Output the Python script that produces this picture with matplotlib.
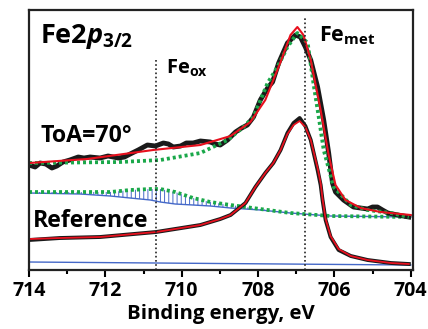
import numpy as np
import matplotlib
matplotlib.use("Agg")
from matplotlib import pyplot as plt
from matplotlib.ticker import MultipleLocator

plt.rcParams['font.family'] = ['Open Sans', 'DejaVu Sans']
plt.rcParams['font.weight'] = 'bold'
plt.rcParams['mathtext.fontset'] = 'custom'
plt.rcParams['mathtext.rm'] = 'Open Sans:bold'
plt.rcParams['mathtext.it'] = 'Open Sans:italic:bold'
plt.rcParams['mathtext.bf'] = 'Open Sans:bold'
plt.rcParams['hatch.linewidth'] = 0.7

### ToA = 70 deg spectrum (raw, fit, metal component)
toa_be = [714.00, 713.84, 713.71, 713.56, 713.40, 713.27, 713.11, 712.93, 712.71, 712.56,
          712.40, 712.14, 711.93, 711.66, 711.50, 711.35, 711.14, 710.90, 710.69, 710.48,
          710.35, 710.22, 710.03, 709.88, 709.70, 709.51, 709.25, 709.12, 708.99, 708.80,
          708.59, 708.43, 708.28, 708.12, 707.94, 707.75, 707.62, 707.46, 707.23, 707.02,
          706.89, 706.76, 706.62, 706.44, 706.28, 706.15, 706.05, 705.97, 705.76, 705.50,
          705.13, 705.00, 704.87, 704.74, 704.60, 704.34, 704.05]
toa_raw = [105, 103, 107, 106, 102, 104, 108, 110, 113, 112,
           113, 112, 114, 112, 113, 116, 120, 125, 124, 127,
           126, 123, 124, 127, 127, 129, 128, 126, 125, 130,
           138, 142, 145, 153, 170, 182, 188, 207, 227, 235,
           233, 223, 210, 183, 150, 117, 87, 78, 70, 63,
           61, 63, 63, 60, 57, 55, 53]

fit_be = [714.0, 712.48, 710.75, 709.51, 708.72, 708.20, 707.81, 707.41, 707.15, 706.97,
          706.81, 706.62, 706.36, 706.15, 705.97, 705.71, 705.31, 704.79, 704.0]
toa_fit = [107, 111, 120, 125, 134, 148, 170, 208, 235, 243,
           235, 210, 160, 115, 85, 70, 62, 58, 55]

met_be = [714.0, 711.61, 710.56, 709.51, 708.80, 708.38, 708.12, 707.75, 707.49, 707.23,
          706.97, 706.70, 706.55, 706.41, 706.28, 706.02, 705.57, 705.13, 704.52, 704.05]
toa_met = [107, 108, 110, 117, 130, 143, 153, 187, 203, 223,
           237, 227, 187, 153, 120, 83, 65, 60, 57, 53]

### oxide component and background
ox_be = [714.0, 712.66, 711.87, 711.35, 710.82, 710.56, 710.17, 709.70, 709.25, 708.72,
         707.94, 707.15, 706.10, 704.0]
toa_ox = [78, 78, 78, 80, 81, 81, 78, 72, 68, 65, 61, 57, 54, 53]
toa_bg = [77, 76, 74, 72, 70, 68, 66, 65, 64, 62, 60, 57, 54, 53]

### reference spectrum
ref_be = [714.0, 713.19, 712.14, 710.67, 709.51, 708.99, 708.72, 708.33, 708.07, 707.81,
          707.60, 707.41, 707.23, 707.07, 706.91, 706.76, 706.62, 706.44, 706.36, 706.31,
          706.23, 706.10, 705.89, 705.57, 705.13, 704.52, 704.05]
ref_raw = [30, 32, 33, 38, 45, 51, 55, 67, 83, 97,
           107, 120, 137, 147, 152, 144, 130, 100, 85, 70,
           50, 33, 20, 14, 10, 7, 6]
ref_fit = [31, 32, 33, 38, 45, 51, 55, 67, 83, 97,
           107, 120, 136, 145, 149, 143, 130, 102, 87, 71,
           51, 34, 21, 14, 10, 7, 6]
ref_bg_be = [714.0, 704.0]
ref_bg = [8, 5]

fe_ox = 710.67
fe_met = 706.78

fig = plt.figure(figsize=(4.28, 3.29), dpi=100)
ax = fig.add_axes([0.0678, 0.1793, 0.8972, 0.7903])

blue = '#4468c8'
green = '#1aa84a'
red = '#e8101e'

ax.plot(ox_be, toa_bg, color=blue, lw=1)
ax.fill_between(ox_be, toa_bg, toa_ox, facecolor='none', edgecolor=blue, hatch='||||', lw=0)
ax.plot(ref_bg_be, ref_bg, color=blue, lw=1)

ax.plot(ox_be, toa_ox, color=green, lw=2.7, ls=(0, (0.8, 0.8)))
ax.plot(toa_be, toa_raw, color='#1a1a1a', lw=3.5, solid_joinstyle='round')
ax.plot(met_be, toa_met, color=green, lw=2.7, ls=(0, (0.8, 0.8)))
ax.plot(fit_be, toa_fit, color=red, lw=1.5)

ax.plot(ref_be, ref_raw, color='#1a1a1a', lw=2.8)
ax.plot(ref_be, ref_fit, color=red, lw=1.3)

ax.plot([fe_ox, fe_ox], [0, 210], color='#222222', lw=1.2, ls=(0, (1, 1.5)))
ax.plot([fe_met, fe_met], [0, 254], color='#222222', lw=1.2, ls=(0, (1, 1.5)))

ax.text(713.71, 227, 'Fe$\\mathit{2p}_{\\mathit{3/2}}$', fontsize=19.5, fontweight='bold')
ax.text(710.42, 196, 'Fe$_{\\mathrm{ox}}$', fontsize=14.5, fontweight='bold')
ax.text(706.41, 229, 'Fe$_{\\mathrm{met}}$', fontsize=15.5, fontweight='bold')
ax.text(713.71, 128, 'ToA=70°', fontsize=16.7, fontweight='bold')
ax.text(713.90, 43, 'Reference', fontsize=16.6, fontweight='bold')

ax.set_xlim(714, 703.94)
ax.set_ylim(0, 260)
ax.set_yticks([])
ax.xaxis.set_major_locator(MultipleLocator(2))
ax.xaxis.set_minor_locator(MultipleLocator(1))
ax.tick_params(axis='x', which='major', direction='out', length=5, width=1.5, labelsize=14, pad=3)
ax.tick_params(axis='x', which='minor', direction='out', length=3, width=1.5)
for s in ax.spines.values():
    s.set_linewidth(1.6)
    s.set_color('#222222')
ax.set_xlabel('Binding energy, eV', fontsize=14.7, fontweight='bold', labelpad=2)

fig.savefig('out.png', dpi=100)
